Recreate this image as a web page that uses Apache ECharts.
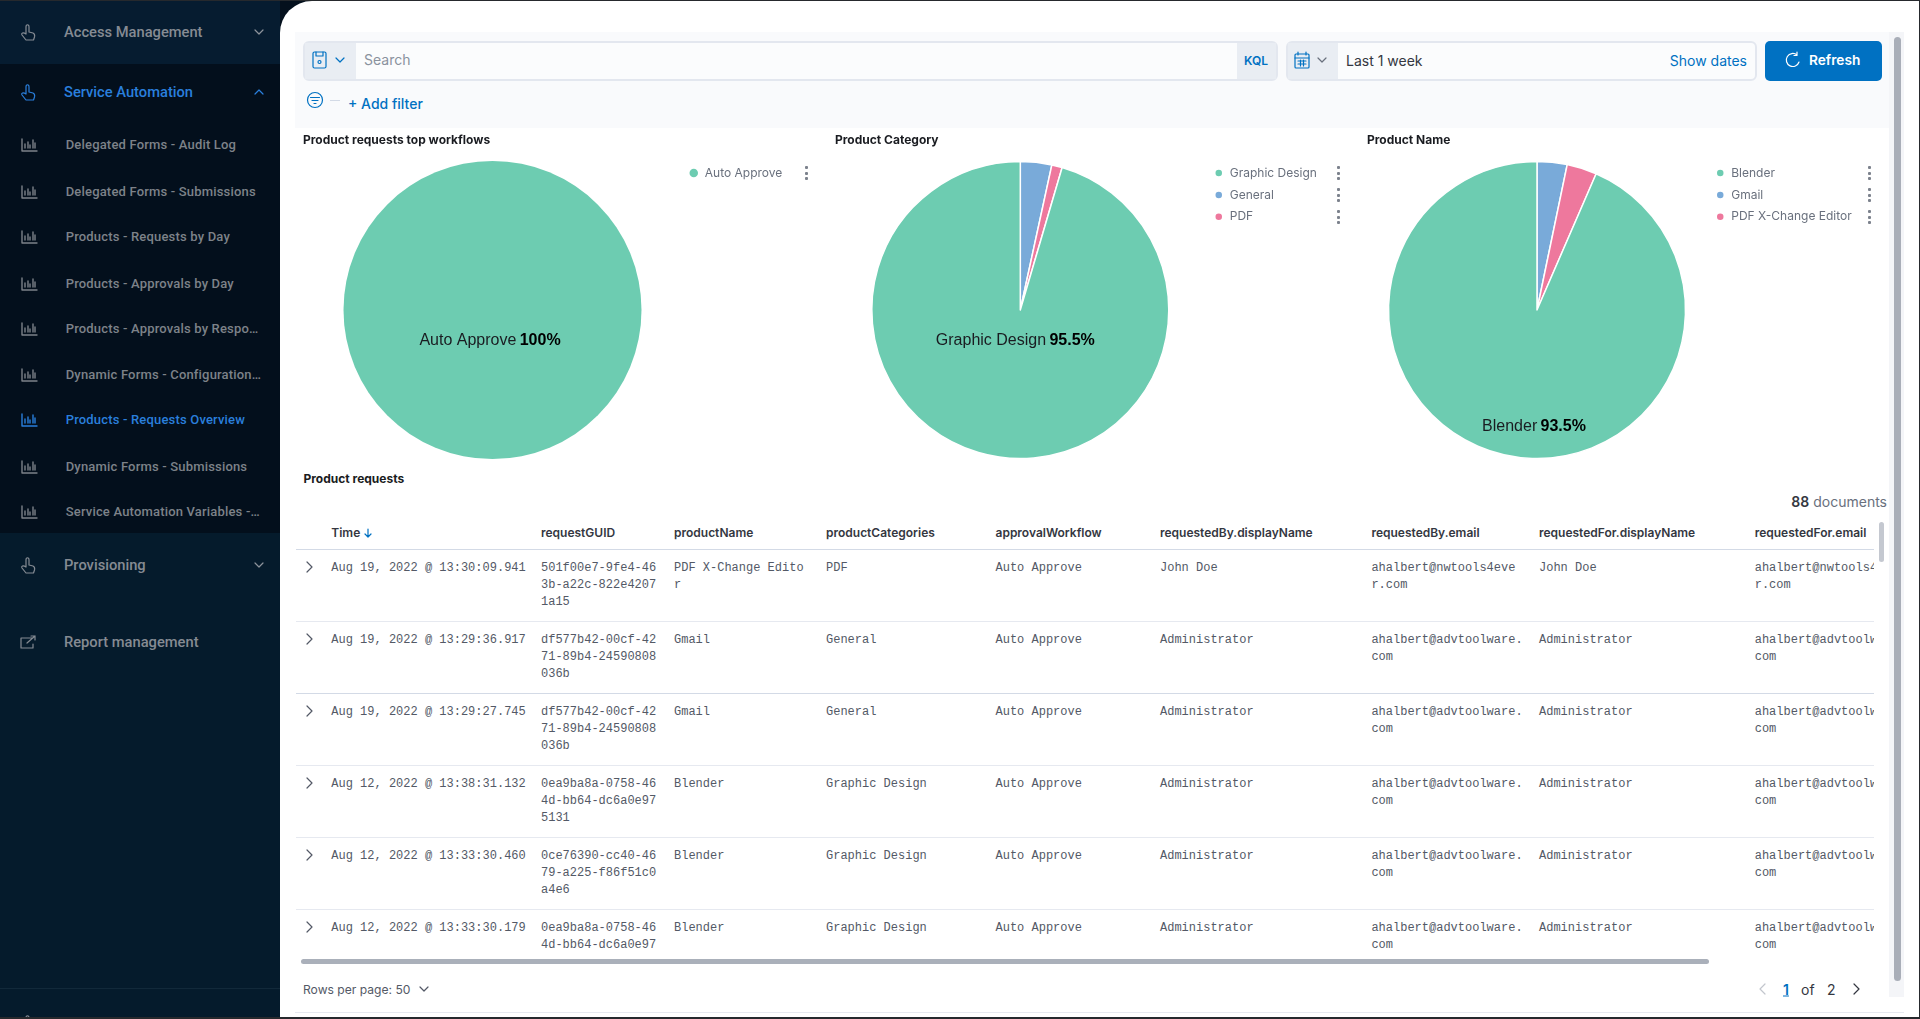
<!DOCTYPE html>
<html><head><meta charset="utf-8"><title>Product requests overview</title>
<script src="https://cdn.jsdelivr.net/npm/echarts@6/dist/echarts.min.js"></script>
<style>
html,body{margin:0;padding:0;width:1920px;height:1019px;overflow:hidden;background:#04101d;font-family:Inter,Roboto,sans-serif}
.a{position:absolute}
.t{position:absolute;white-space:pre;transform:translateY(-50%);line-height:1.2}
#side{left:0;top:0;width:280px;height:1019px;overflow:hidden;background:#051b2c}
#panel{left:280px;top:1px;width:1639px;height:1016px;background:#fff;border-top-left-radius:32px;overflow:hidden}
#chart{left:0;top:0;width:1920px;height:1019px;z-index:3}
#clip{left:296px;top:549px;width:1578px;height:404px;overflow:hidden;z-index:2}
.m{font:12px/17px "Liberation Mono",monospace;color:#535966;white-space:pre;position:absolute}
svg{position:absolute;overflow:visible}
</style></head><body>
<div class="a" id="side"></div>
<div class="a" id="panel"></div>
<div class="a" id="chrome" style="left:0;top:0;width:1920px;height:1019px"></div>
<div class="a" id="clip"></div>
<div class="a" id="chart"></div>
<script>
// ---- chart data ----
const workflowNames = ['Auto Approve'];
const workflowValues = [88];
const categoryNames = ['General', 'PDF', 'Graphic Design'];
const categoryValues = [3, 1, 84];
const categoryLegend = ['Graphic Design', 'General', 'PDF'];
const productNames = ['Gmail', 'PDF X-Change Editor', 'Blender'];
const productValues = [3, 3, 86];
const productLegend = ['Blender', 'Gmail', 'PDF X-Change Editor'];
const sliceColors = {'Auto Approve':'#6dccb1','Graphic Design':'#6dccb1','Blender':'#6dccb1','General':'#79aad9','Gmail':'#79aad9','PDF':'#ee789d','PDF X-Change Editor':'#ee789d'};
const panelTitles = ['Product requests top workflows', 'Product Category', 'Product Name'];

// ---- table data ----
const tableHeaders = ['Time','requestGUID','productName','productCategories','approvalWorkflow','requestedBy.displayName','requestedBy.email','requestedFor.displayName','requestedFor.email'];
const times = ['Aug 19, 2022 @ 13:30:09.941','Aug 19, 2022 @ 13:29:36.917','Aug 19, 2022 @ 13:29:27.745','Aug 12, 2022 @ 13:38:31.132','Aug 12, 2022 @ 13:33:30.460','Aug 12, 2022 @ 13:33:30.179'];
const guids = ['501f00e7-9fe4-46\n3b-a22c-822e4207\n1a15','df577b42-00cf-42\n71-89b4-24590808\n036b','df577b42-00cf-42\n71-89b4-24590808\n036b','0ea9ba8a-0758-46\n4d-bb64-dc6a0e97\n5131','0ce76390-cc40-46\n79-a225-f86f51c0\na4e6','0ea9ba8a-0758-46\n4d-bb64-dc6a0e97\n5131'];
const products = ['PDF X-Change Edito\nr','Gmail','Gmail','Blender','Blender','Blender'];
const categories = ['PDF','General','General','Graphic Design','Graphic Design','Graphic Design'];
const workflows = ['Auto Approve','Auto Approve','Auto Approve','Auto Approve','Auto Approve','Auto Approve'];
const requesters = ['John Doe','Administrator','Administrator','Administrator','Administrator','Administrator'];
const emails = ['ahalbert@nwtools4eve\nr.com','ahalbert@advtoolware.\ncom','ahalbert@advtoolware.\ncom','ahalbert@advtoolware.\ncom','ahalbert@advtoolware.\ncom','ahalbert@advtoolware.\ncom'];
const navTop = ['Access Management','Service Automation','Provisioning','Report management','Help'];
const navItems = ['Delegated Forms - Audit Log','Delegated Forms - Submissions','Products - Requests by Day','Products - Approvals by Day','Products - Approvals by Respo…','Dynamic Forms - Configuration…','Products - Requests Overview','Dynamic Forms - Submissions','Service Automation Variables -…'];

// ---- chrome helpers ----
const chrome = document.getElementById('chrome'), side = document.getElementById('side'), clip = document.getElementById('clip');
function box(x,y,w,h,css,parent){const d=document.createElement('div');d.className='a';d.style.cssText+=`left:${x}px;top:${y}px;width:${w}px;height:${h}px;${css||''}`;(parent||chrome).appendChild(d);return d;}
function txt(x,y,s,css,parent,right){const d=document.createElement('div');d.className='t';d.style.cssText+=(right?`right:${1920-x}px;`:`left:${x}px;`)+`top:${y}px;${css||''}`;d.innerHTML=s;(parent||chrome).appendChild(d);return d;}
function svg(x,y,inner,color,parent){const w=document.createElement('div');w.innerHTML=`<svg style="left:${x}px;top:${y}px" width="1" height="1" fill="none" stroke="${color}" stroke-width="1.2" stroke-linecap="round" stroke-linejoin="round">${inner}</svg>`;(parent||chrome).appendChild(w.firstChild);}
const chevDown=(x,y,c,p)=>svg(x,y,'<path d="M-4 -2 L0 2 L4 -2"/>',c,p);
const chevUp=(x,y,c,p)=>svg(x,y,'<path d="M-4 2 L0 -2 L4 2"/>',c,p);
const chevRight=(x,y,c,s)=>svg(x,y,'<path d="M-2 -5 L3 0 L-2 5"/>',c,s);
const chevLeft=(x,y,c)=>svg(x,y,'<path d="M2 -5 L-3 0 L2 5"/>',c);
const hand=(x,y,c)=>svg(x,y,'<path d="M-2 -6 C-2 -9 1 -9 1 -6 L1 -1 L5 0 C7 1 7 2 6.500 4 L5.500 7 L-2 7 L-6 2 C-7 0 -5 -1 -2 1 Z"/>',c,side);
const bars=(x,y,c)=>svg(x,y,'<path d="M-7 -6 V6 H8 M-4 3 V-1 M-1 3 V-3 M1 3 V0 M4 3 V-5 M6 3 V-2" stroke-width="1.400"/>',c,side);

// ---- sidebar ----
box(0,0,280,64,'background:#061c30',side);
box(0,64,280,469,'background:#030f1c',side);
box(0,988,280,1,'background:#12293a',side);
[[32,0,'#858b93'],[92,1,'#2a7fdc'],[565,2,'#858b93'],[642,3,'#858b93'],[1023,4,'#858b93']].forEach(([y,i,c])=>{
  txt(64,y,navTop[i],`font:500 14.7px Roboto,sans-serif;color:${c}`,side);
  if(i<3||i===4) hand(28,y+1,c);
});
svg(28,642,'<path d="M5 -4 H-7 V6 H5 V2 M-1 1 L7 -6 M3 -6 H7 V-2"/>','#858b93',side);
chevDown(259,32,'#8d939b',side);chevUp(259,92,'#2a7fdc',side);chevDown(259,565,'#8d939b',side);
[144,191,236,283,328,374,419,465.5,511].forEach((y,i)=>{
  const c=i===6?'#2a7fdc':'#7d8289';
  txt(65.7,y,navItems[i],`font:500 13px Roboto,sans-serif;letter-spacing:.18px;color:${c}`,side);
  bars(29,y+1,c);
});

// ---- toolbar ----
box(295,32,1594,96,'background:#f9fafc');
box(1889,32,15,965,'background:#f4f5f8');
box(1893.5,37,7.5,944,'background:#a9aeb8;border-radius:4px');
box(295,1012,1609,1,'background:#e6e9f0');
const field='box-sizing:border-box;background:#fbfcfd;border:2px solid #e3e7ef;border-radius:6px;overflow:hidden;';
box(303,41,975,40,field);
box(305,43,51,36,'background:#e9edf3');
box(1237,43,39,36,'background:#e9edf3');
svg(320,60,'<rect x="-7" y="-8" width="13" height="16" rx="1.500"/><path d="M-4 -8 V-4 H3 V-8"/><circle cx="-0.500" cy="2" r="1.500"/>','#0071c2');
chevDown(340,60,'#0071c2');
txt(364,59,'Search','font:400 14px Inter,sans-serif;color:#8a929e');
txt(1256,60,'KQL','font:600 12px Inter,sans-serif;color:#0071c2;transform:translate(-50%,-50%)');
box(1286,41,471,40,field);
box(1288,43,50,36,'background:#e9edf3');
svg(1302,60,'<rect x="-7" y="-6" width="14" height="14" rx="1"/><path d="M-7 -2 H7 M-4 -8 V-5 M4 -8 V-5 M-4 1 H4 M-4 4 H4 M-1.500 0 V6 M1.500 0 V6"/>','#0071c2');
chevDown(1322,60,'#69707d');
txt(1346,60,'Last 1 week','font:400 14px Inter,sans-serif;color:#343741');
txt(1747,60,'Show dates','font:400 14px Inter,sans-serif;color:#0071c2',chrome,true);
box(1764.5,41,117,39.5,'background:#0071c2;border-radius:5px');
svg(1793,60,'<path d="M4 -5 A6.500 6.500 0 1 0 6 2 M4 -8 V-4.500 H1" stroke="#fff"/>','#fff');
txt(1809,60,'Refresh','font:600 13.7px Inter,sans-serif;color:#fff');
svg(315,100,'<circle r="7.500"/><path d="M-4.500 -2.500 H4.500 M-3 0.500 H3 M-1 3.500 H1"/>','#0071c2');
box(330,99.5,10,1,'background:#d3dae6');
txt(348,102.5,'+ Add filter','font:500 14px Inter,sans-serif;color:#0071c2');

// legend menu dots
function dots(x,y){[-5.5,0,5.5].forEach(o=>box(x-1.5,y+o-1.5,3,3,'background:#7c828d;border-radius:1px'));}
dots(806.5,173);[173,195,217].forEach(y=>{dots(1338,y);dots(1869,y);});

// ---- table ----
txt(303.5,478,'Product requests','font:700 12px Inter,sans-serif;color:#1a1c21');
txt(1887,501,'<b style="font-weight:600;color:#343741">88</b> documents','font:400 14px Inter,sans-serif;color:#69707d',chrome,true);
const colX=[331.3,541,674,826,995.5,1160,1371.4,1539,1754.7];
tableHeaders.forEach((h,i)=>txt(colX[i],532,h,'font:600 12px Inter,sans-serif;color:#343741'));
svg(367.5,533,'<path d="M0 -4 V4 M-3 1 L0 4 L3 1"/>','#0071c2');
box(296,549,1578,1,'background:#d3dae6');
box(1879,521.7,5,40.5,'background:#c4c8d0;border-radius:3px');
const rowTop=[549,621,693,765,837,909];
rowTop.forEach((top,r)=>{
  const rel=top-549;
  if(r>0) box(0,rel,1578,1,'background:'+(r===2?'#d3dae6':'#e6e9f0'),clip);
  const cells=[times[r],guids[r],products[r],categories[r],workflows[r],requesters[r],emails[r],requesters[r],emails[r]];
  cells.forEach((c,i)=>{const d=document.createElement('div');d.className='m';d.style.left=(colX[i]-296)+'px';d.style.top=(rel+10.5)+'px';d.textContent=c;clip.appendChild(d);});
  chevRight(308.600,top+17.5,'#535966');
});
box(301,958.5,1407.6,5.5,'background:#aab0ba;border-radius:3px');

// ---- pagination ----
txt(303,989,'Rows per page: 50','font:400 12.1px Inter,sans-serif;color:#535966');
chevDown(424,989,'#535966');
chevLeft(1763,989,'#c2c6cd');
txt(1783,989,'1','font:600 14px Inter,sans-serif;color:#0071c2;text-decoration:underline');
txt(1801,989,'of','font:400 14px Inter,sans-serif;color:#343741');
txt(1827,989,'2','font:400 14px Inter,sans-serif;color:#343741');
chevRight(1855.500,989,'#343741');

// dark image border
box(0,0,1920,1,'background:#26292d');
box(0,1017,1920,2,'background:#26292d');
box(1919,0,1,1019,'background:#26292d');

// ---- charts ----
const labelRich={n:{fontFamily:'Liberation Sans',fontSize:16,color:'#1a1c21'},p:{fontFamily:'Liberation Sans',fontSize:16,fontWeight:700,color:'#000'}};
function pie(names,values,cx,r,dx,dy){
  const top=Math.max(...values);
  return {type:'pie',center:[cx,310],radius:[0,r],startAngle:90,clockwise:true,percentPrecision:1,animation:false,silent:true,
    avoidLabelOverlap:false,labelLine:{show:false},label:{show:false},
    labelLayout:{dx:dx,dy:dy},
    itemStyle:{borderColor:'#fff',borderWidth:values.length>1?1.5:0},
    data:names.map((n,i)=>({name:n,value:values[i],itemStyle:{color:sliceColors[n]},
      label:{show:values[i]===top,position:'center',formatter:p=>`{n|${p.name}} {p|${p.percent}%}`,rich:labelRich}}))};
}
function legend(idx,names,left){return {seriesIndex:idx,data:names,orient:'vertical',left:left,top:167,padding:0,icon:'circle',itemWidth:12,itemHeight:8.5,itemGap:9.900,selectedMode:false,
  textStyle:{fontFamily:'Inter',fontSize:12,color:'#69707d'}};}
const chart=echarts.init(document.getElementById('chart'),null,{renderer:'canvas',width:1920,height:1019});
chart.setOption({
  backgroundColor:'transparent',animation:false,
  title:panelTitles.map((t,i)=>({text:t,left:[303,835,1367][i],top:134,padding:0,textStyle:{fontFamily:'Inter',fontSize:12,fontWeight:700,color:'#1a1c21'}})),
  legend:[legend(0,workflowNames,689.5),legend(1,categoryLegend,1213.5),legend(2,productLegend,1715)],
  series:[pie(workflowNames,workflowValues,492.5,149,-2.5,30.5),pie(categoryNames,categoryValues,1020.3,148.5,-5,30.5),pie(productNames,productValues,1537,148.5,-3,116.5)]
});
</script></body></html>
